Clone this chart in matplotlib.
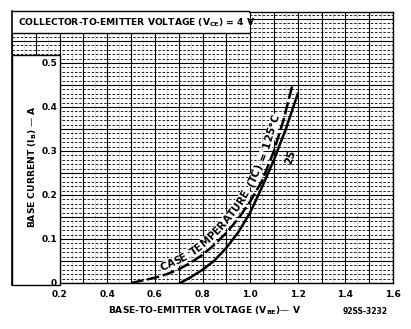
import numpy as np
import matplotlib
matplotlib.use("Agg")
import matplotlib.pyplot as plt
from matplotlib.patches import Rectangle
from matplotlib.font_manager import FontProperties

plt.rcParams['font.family'] = ['DejaVu Sans']
plt.rcParams['mathtext.default'] = 'bf'

# ---- data ----
v_125 = [0.50, 0.55, 0.60, 0.65, 0.70, 0.75, 0.80, 0.85, 0.90, 0.95, 1.00, 1.05, 1.10, 1.14, 1.18]
i_125 = [0.000, 0.006, 0.012, 0.020, 0.031, 0.046, 0.064, 0.087, 0.114, 0.146, 0.185, 0.232, 0.300, 0.370, 0.455]
v_25 = [0.706, 0.75, 0.80, 0.85, 0.90, 0.95, 1.00, 1.05, 1.10, 1.15, 1.20]
i_25 = [0.000, 0.013, 0.030, 0.051, 0.080, 0.115, 0.160, 0.218, 0.280, 0.350, 0.430]

x_ticks = [0.2, 0.4, 0.6, 0.8, 1.0, 1.2, 1.4, 1.6]
x_tick_labels = ["0.2", "0.4", "0.6", "0.8", "1.0", "1.2", "1.4", "1.6"]
y_ticks = [0.0, 0.1, 0.2, 0.3, 0.4, 0.5]
y_tick_labels = ["0", "0.1", "0.2", "0.3", "0.4", "0.5"]

title = "COLLECTOR-TO-EMITTER VOLTAGE (V$_{CE}$) = 4 V"
xlabel = "BASE-TO-EMITTER VOLTAGE (V$_{BE}$)— V"
ylabel = "BASE CURRENT (I$_{B}$) — A"
curve_label = "CASE TEMPERATURE (TC) = 125°C"
code_label = "92SS-3232"

W, H = 411, 329
fig = plt.figure(figsize=(W / 100, H / 100), dpi=100)
ax = fig.add_axes([12 / W, (H - 283) / H, 381 / W, 270.6 / H])
ax.set_xlim(0, 1.6)
ax.set_ylim(0, 0.615)

# grid
ax.set_xticks(np.round(np.arange(0, 1.61, 0.1), 2))
ax.set_yticks(np.round(np.arange(0, 0.61, 0.05), 3))
ax.set_yticks(np.round(np.arange(0, 0.615, 0.01), 3), minor=True)
ax.set_xticks(np.round(np.arange(0, 1.61, 0.05), 3), minor=True)
ax.grid(which='major', color='black', lw=0.8)
ax.grid(which='minor', axis='y', color='black', lw=0.6, linestyle=(0, (3, 2)))
ax.grid(which='minor', axis='x', color='black', lw=0.4, linestyle=(0, (1, 3)))
ax.tick_params(which='both', length=0, labelbottom=False, labelleft=False)
for s in ax.spines.values():
    s.set_visible(False)
for side in ('right', 'top', 'bottom'):
    ax.spines[side].set_visible(True)
    ax.spines[side].set_linewidth(1.0)
ax.set_axisbelow(True)

# white boxes
ax.add_patch(Rectangle((0, -0.004), 0.2, 0.522, facecolor='white', edgecolor='black',
                       lw=1.0, zorder=3, clip_on=False))
ax.add_patch(Rectangle((0, 0.568), 0.995, 0.05, facecolor='white', edgecolor='none',
                       zorder=3, clip_on=False))
ax.plot([0, 0.995], [0.568, 0.568], color='black', lw=1.0, zorder=3.5)
ax.plot([0, 0.995], [0.618, 0.618], color='black', lw=1.0, zorder=3.5, clip_on=False)
ax.plot([0, 0], [-0.004, 0.618], color='black', lw=1.2, zorder=3.6, clip_on=False)

# curves
ax.plot(v_125, i_125, color='black', lw=1.8, linestyle=(0, (5, 1.5)), zorder=4)
ax.plot(v_25, i_25, color='black', lw=1.8, zorder=4)

# tick labels
for xv, lab in zip(x_ticks, x_tick_labels):
    ax.text(xv, -0.026, lab, ha='center', va='center', fontsize=6.5, fontweight='bold')
for yv, lab in zip(y_ticks, y_tick_labels):
    ax.text(0.19, yv, lab, ha='right', va='center', fontsize=6.5, fontweight='bold', zorder=5)

ax.text(0.025, 0.5925, title, ha='left', va='center', fontsize=6.6, fontweight='bold', zorder=5)
fig.text(205 / W, 1 - 311 / H, xlabel, ha='center', va='center', fontsize=6.6, fontweight='bold')
fig.text(365 / W, 1 - 311 / H, code_label, ha='center', va='center', fontsize=5.5, fontweight='bold')
fig.text(33 / W, 1 - 167 / H, ylabel, ha='center', va='center', rotation=90, fontsize=6.6,
         fontweight='bold')

ax.text(1.17, 0.285, "25", ha='center', va='center', rotation=72, fontsize=7.5,
        fontweight='bold', zorder=5)

# curved text along the 125 C curve
fig.canvas.draw()
renderer = fig.canvas.get_renderer()
pts = ax.transData.transform(np.column_stack([v_125, i_125]))
seg = np.hypot(np.diff(pts[:, 0]), np.diff(pts[:, 1]))
arc = np.concatenate([[0], np.cumsum(seg)])
fp = FontProperties(family='DejaVu Sans', weight='bold', size=7.6)
start_pt = ax.transData.transform((0.635, 0.018))
s0 = np.interp(start_pt[0], pts[:, 0], arc)
offset = 5.0
pos = s0
for ch in curve_label:
    w, h, d = renderer.get_text_width_height_descent(ch if ch != ' ' else 'n', fp, ismath=False)
    if ch == ' ':
        w *= 0.6
    sc = pos + w / 2
    x = np.interp(sc, arc, pts[:, 0])
    y = np.interp(sc, arc, pts[:, 1])
    x1 = np.interp(sc + 4, arc, pts[:, 0])
    y1 = np.interp(sc + 4, arc, pts[:, 1])
    x0 = np.interp(sc - 4, arc, pts[:, 0])
    y0 = np.interp(sc - 4, arc, pts[:, 1])
    tx, ty = x1 - x0, y1 - y0
    n = np.hypot(tx, ty)
    tx, ty = tx / n, ty / n
    nx, ny = -ty, tx
    ang = np.degrees(np.arctan2(ty, tx))
    if ch != ' ':
        fig.text(x + nx * offset, y + ny * offset, ch, transform=None, fontproperties=fp,
                 ha='center', va='baseline', rotation=ang, rotation_mode='anchor', zorder=6,
                 bbox=dict(facecolor='white', edgecolor='none', pad=0.3))
    pos += w * 1.02

fig.savefig("out.png", dpi=100)
